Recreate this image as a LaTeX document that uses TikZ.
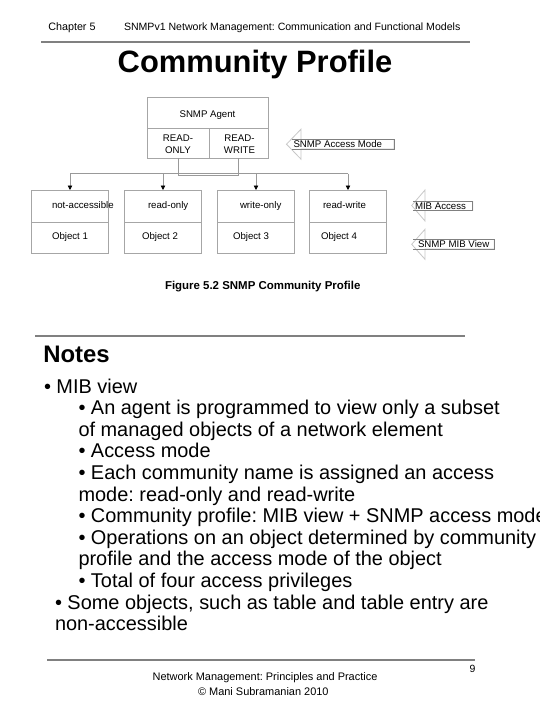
\documentclass[tikz,border=0pt]{standalone}
\usepackage{fontspec}
\setmainfont{Liberation Sans}
\usetikzlibrary{arrows.meta}
\frenchspacing
\begin{document}
\frenchspacing
\begin{tikzpicture}[x=1bp,y=-1bp,
  every node/.style={inner sep=0pt, outer sep=0pt},
  ruleline/.style={draw=black!50, line width=1.2bp},
  boxnode/.style={draw=black!35, line width=0.8bp, rectangle},
  conn/.style={draw=black!40, line width=0.8bp},
  arrowtip/.style={-{Triangle[width=4.5bp,length=4.5bp,color=black]}},
  headline/.style={draw=black!22, line width=0.8bp, fill=white},
  bodyline/.style={draw=black!50, line width=0.8bp},
  dtext/.style={font=\fontsize{9.7}{12.3}\selectfont},
  ntext/.style={font=\fontsize{20}{21.6}\selectfont, anchor=base west},
  htext/.style={font=\fontsize{10.8}{13}\selectfont, anchor=base west},
  ftext/.style={font=\fontsize{11}{13}\selectfont, anchor=base}
]
\useasboundingbox (0,0) rectangle (540,720);
\fill[white] (0,0) rectangle (540,720);

% header
\node[htext] (chap) at (48.3,30.7) {Chapter 5};
\node[htext, font=\fontsize{10.6}{13}\selectfont] (htitle) at (124,30.7) {SNMPv1 Network Management: Communication and Functional Models};
\draw[ruleline] (41,42) -- (470,42);
\node[anchor=base, font=\bfseries\fontsize{31}{36}\selectfont] (title) at (255,72.7) {Community Profile};

% agent
\node[boxnode, minimum width=121bp, minimum height=31bp] (agent) at (207.5,112.5) {};
\node[dtext, anchor=base] (agentt) at (207.5,117.3) {SNMP Agent};
\node[boxnode, minimum width=62bp, minimum height=30bp] (ro) at (178,143) {};
\node[boxnode, minimum width=59bp, minimum height=30bp] (rw) at (238.5,143) {};
\node[dtext, align=center] (rot) at (178,144.2) {READ-\\ONLY};
\node[dtext, align=center] (rwt) at (239.5,144.2) {READ-\\WRITE};

% object boxes
\node[boxnode, minimum width=77bp, minimum height=32bp] (b1a) at (70,206) {};
\node[boxnode, minimum width=77bp, minimum height=31bp] (b1b) at (70,237.5) {};
\node[boxnode, minimum width=77bp, minimum height=32bp] (b2a) at (163,206) {};
\node[boxnode, minimum width=77bp, minimum height=31bp] (b2b) at (163,237.5) {};
\node[boxnode, minimum width=77bp, minimum height=32bp] (b3a) at (256,206) {};
\node[boxnode, minimum width=77bp, minimum height=31bp] (b3b) at (256,237.5) {};
\node[boxnode, minimum width=77bp, minimum height=32bp] (b4a) at (348,206) {};
\node[boxnode, minimum width=77bp, minimum height=31bp] (b4b) at (348,237.5) {};

\node[dtext, anchor=base west] (t1a) at (52,208.3) {not-accessible};
\node[dtext, anchor=base west] (t2a) at (148,208.3) {read-only};
\node[dtext, anchor=base west] (t3a) at (240,208.3) {write-only};
\node[dtext, anchor=base west] (t4a) at (323,208.3) {read-write};
\node[dtext, anchor=base west] (t1b) at (52,239) {Object 1};
\node[dtext, anchor=base west] (t2b) at (142,239) {Object 2};
\node[dtext, anchor=base west] (t3b) at (233,239) {Object 3};
\node[dtext, anchor=base west] (t4b) at (321,239) {Object 4};

% connectors
\draw[conn] (ro.south) -- ++(0,17.5) -| (rw.south);
\coordinate (busL) at (70,173.5);
\coordinate (busR) at (348,173.5);
\draw[conn] (busL) -- (busR);
\foreach \b in {b1a,b2a,b3a,b4a}
  \draw[conn, arrowtip] (\b.north |- busL) -- (\b.north);

% block arrows
\draw[headline] (286.5,144.2) -- (301,129.2) -- (301,139.5) -- (394,139.5) -- (394,149) -- (301,149) -- (301,159.2) -- cycle;
\draw[bodyline] (292,139.5) -- (394,139.5) -- (394,149) -- (292,149);
\node[dtext, anchor=west] (am) at (293.5,144.4) {SNMP Access Mode};

\draw[headline] (411.7,205.5) -- (425,190) -- (425,201.5) -- (472.7,201.5) -- (472.7,210.5) -- (425,210.5) -- (425,221) -- cycle;
\draw[bodyline] (413,201.5) -- (472.7,201.5) -- (472.7,210.5) -- (413,210.5);
\node[dtext, anchor=west] (ma) at (415,206.1) {MIB Access};

\draw[headline] (411.7,244.3) -- (425,229.3) -- (425,239.5) -- (494.3,239.5) -- (494.3,249) -- (425,249) -- (425,259.3) -- cycle;
\draw[bodyline] (413,239.5) -- (494.3,239.5) -- (494.3,249) -- (413,249);
\node[dtext, anchor=west] (mv) at (418,244.3) {SNMP MIB View};

% caption
\node[anchor=base west, font=\bfseries\fontsize{11.5}{14}\selectfont] (cap) at (165,289) {Figure 5.2 SNMP Community Profile};

% notes
\draw[ruleline] (35,336) -- (465,336);
\node[anchor=base west, font=\bfseries\fontsize{24}{28}\selectfont] (notes) at (43.3,362.7) {Notes};
\node[ntext] (n1) at (44,393) {• MIB view};
\node[ntext] (n2) at (78.5,414.6) {• An agent is programmed to view only a subset};
\node[ntext] (n3) at (78.5,436.2) {of managed objects of a network element};
\node[ntext] (n4) at (78.5,457.8) {• Access mode};
\node[ntext] (n5) at (78.5,479.4) {• Each community name is assigned an access};
\node[ntext] (n6) at (78.5,501) {mode: read-only and read-write};
\node[ntext] (n7) at (78.5,522.6) {• Community profile: MIB view + SNMP access mode};
\node[ntext] (n8) at (78.5,544.2) {• Operations on an object determined by community};
\node[ntext] (n9) at (78.5,565.8) {profile and the access mode of the object};
\node[ntext] (n10) at (78.5,587.4) {• Total of four access privileges};
\node[ntext] (n11) at (55,609) {• Some objects, such as table and table entry are};
\node[ntext] (n12) at (55,630.6) {non-accessible};

% footer
\draw[ruleline] (47,660) -- (475,660);
\node[anchor=base, font=\fontsize{10.5}{12}\selectfont] (pg) at (472.5,672) {9};
\node[ftext] (f1) at (265,680.7) {Network Management: Principles and Practice};
\node[ftext] (f2) at (263.3,695) {© Mani Subramanian 2010};
\end{tikzpicture}
\end{document}
